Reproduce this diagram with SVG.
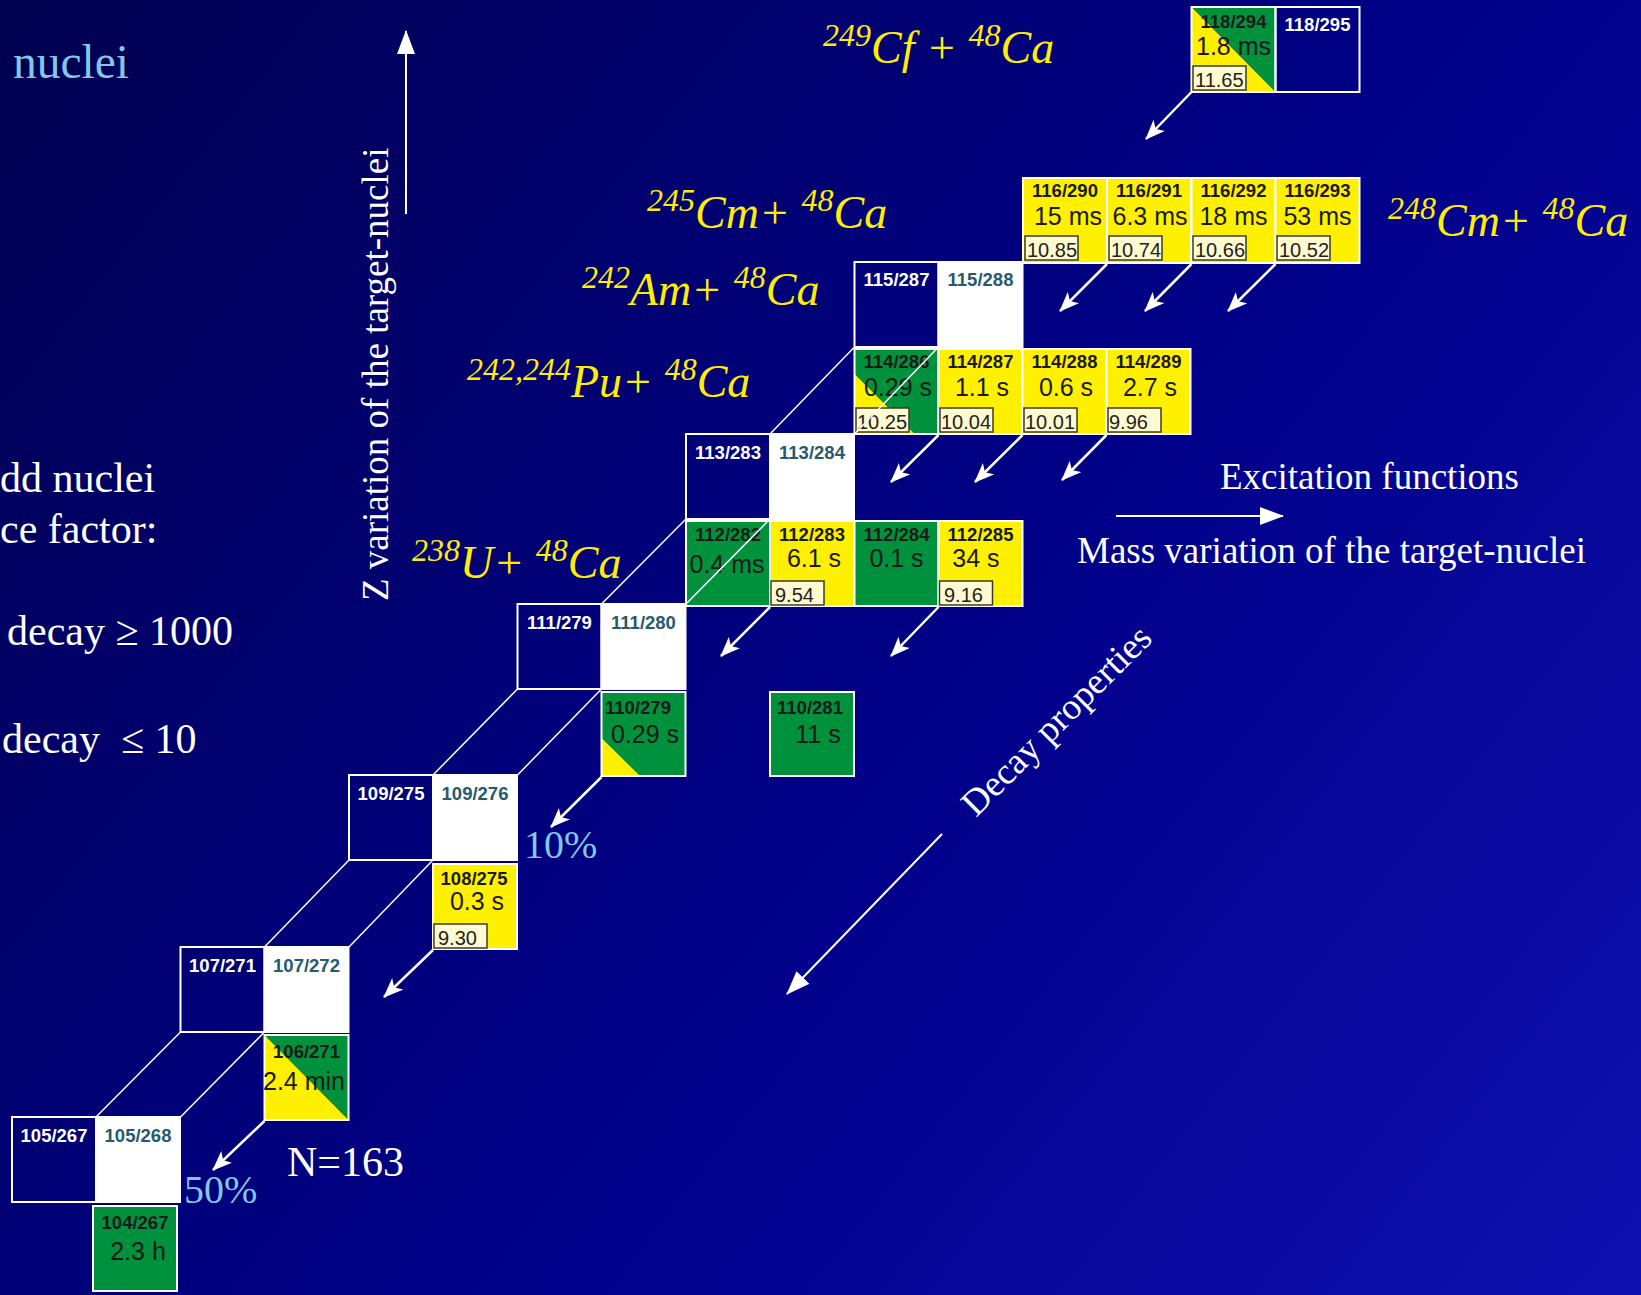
<svg xmlns="http://www.w3.org/2000/svg" width="1641" height="1295" viewBox="0 0 1641 1295">
<defs>
<linearGradient id="bg" gradientUnits="userSpaceOnUse" x1="0" y1="0" x2="1641" y2="1295">
<stop offset="0" stop-color="#000050"/>
<stop offset="0.55" stop-color="#000088"/>
<stop offset="1" stop-color="#1010b0"/>
</linearGradient>
<marker id="ah" markerUnits="userSpaceOnUse" markerWidth="20" markerHeight="16" refX="19" refY="8" orient="auto">
<path d="M0,0 L20,8 L0,16 L5,8 z" fill="#ffffff"/>
</marker>
<marker id="bh" markerUnits="userSpaceOnUse" markerWidth="24" markerHeight="18" refX="23" refY="9" orient="auto">
<path d="M0,0 L24,9 L0,18 z" fill="#ffffff"/>
</marker>
</defs>
<style>
.cell{stroke:#ffffff;stroke-width:2}
.nav{fill:none}
.wht{fill:#ffffff}
.yel{fill:#fff000}
.grn{fill:#00913c}
.lab{font-family:"Liberation Sans",Arial,sans-serif;font-weight:bold;font-size:18.5px;text-anchor:middle}
.lw{fill:#ffffff}
.lt{fill:#265a6e}
.ld{fill:#1a1a1a}
.hl{font-family:"Liberation Sans",Arial,sans-serif;font-size:25px;fill:#1a1a1a;text-anchor:middle}
.box{fill:#fffad0;stroke:#3a3a2a;stroke-width:1.5}
.bt{font-family:"Liberation Sans",Arial,sans-serif;font-size:20px;fill:#222222}
.ser{font-family:"Liberation Serif","Times New Roman",serif}
.wt{fill:#ffffff;font-size:42px}
.blue{fill:#80c8e6}
.rx{font-family:"Liberation Serif","Times New Roman",serif;font-style:italic;fill:#ffee00;font-size:46px}
.sup{font-size:32px}
.pl{stroke:#ffffff;stroke-width:1.5;fill:none}
.ar{stroke:#ffffff;stroke-width:2.5;fill:none;marker-end:url(#ah)}
.big{stroke:#ffffff;stroke-width:2;fill:none;marker-end:url(#bh)}
</style>
<rect x="0" y="0" width="1641" height="1295" fill="url(#bg)"/>

<!-- left texts -->
<g id="left-texts" class="ser">
<text x="13" y="78" font-size="47.5" class="blue">nuclei</text>
<text x="0" y="492" class="wt">dd nuclei</text>
<text x="0" y="543" class="wt">ce factor:</text>
<text x="7" y="645" class="wt">decay ≥ 1000</text>
<text x="2" y="753" class="wt" xml:space="preserve">decay  ≤ 10</text>
<text x="287" y="1176" class="wt">N=163</text>
<text x="524" y="858" font-size="40" class="blue">10%</text>
<text x="184" y="1203" font-size="40" class="blue">50%</text>
<text transform="translate(388,601) rotate(-90)" font-size="37" fill="#ffffff">Z variation of the target-nuclei</text>
<text x="1220" y="489" font-size="37" fill="#ffffff">Excitation functions</text>
<text x="1077" y="563" font-size="37" fill="#ffffff">Mass variation of the target-nuclei</text>
<text transform="translate(976,818) rotate(-45)" font-size="37" fill="#ffffff">Decay properties</text>
</g>

<!-- reaction labels -->
<g id="reactions" class="rx">
<text x="823" y="63"><tspan class="sup" dy="-17">249</tspan><tspan dy="17">Cf + </tspan><tspan class="sup" dy="-17">48</tspan><tspan dy="17">Ca</tspan></text>
<text x="647" y="228"><tspan class="sup" dy="-17">245</tspan><tspan dy="17">Cm+ </tspan><tspan class="sup" dy="-17">48</tspan><tspan dy="17">Ca</tspan></text>
<text x="1388" y="236"><tspan class="sup" dy="-17">248</tspan><tspan dy="17">Cm+ </tspan><tspan class="sup" dy="-17">48</tspan><tspan dy="17">Ca</tspan></text>
<text x="582" y="305"><tspan class="sup" dy="-17">242</tspan><tspan dy="17">Am+ </tspan><tspan class="sup" dy="-17">48</tspan><tspan dy="17">Ca</tspan></text>
<text x="467" y="397"><tspan class="sup" dy="-17">242,244</tspan><tspan dy="17">Pu+ </tspan><tspan class="sup" dy="-17">48</tspan><tspan dy="17">Ca</tspan></text>
<text x="412" y="578"><tspan class="sup" dy="-17">238</tspan><tspan dy="17">U+ </tspan><tspan class="sup" dy="-17">48</tspan><tspan dy="17">Ca</tspan></text>
</g>

<!-- Z=118 -->
<g id="n118-294">
<polygon points="1191.5,7 1275.5,7 1275.5,92" class="grn"/>
<polygon points="1191.5,7 1191.5,92 1275.5,92" class="yel"/>
<rect x="1191.5" y="7" width="84" height="85" class="cell" fill="none"/>
<text x="1233.5" y="28" class="lab ld">118/294</text>
<text x="1233.5" y="55" class="hl">1.8 ms</text>
<rect x="1193" y="66" width="53" height="24" class="box"/>
<text x="1195" y="87" class="bt">11.65</text>
</g>
<g id="n118-295">
<rect x="1275.5" y="7" width="84" height="85" class="cell nav"/>
<text x="1317.5" y="31" class="lab lw">118/295</text>
</g>

<!-- Z=116 -->
<g id="n116-290">
<rect x="1023" y="178" width="84" height="85" class="cell yel"/>
<text x="1065" y="197" class="lab ld">116/290</text>
<text x="1068" y="225" class="hl">15 ms</text>
<rect x="1025" y="236" width="53" height="24" class="box"/>
<text x="1027" y="257" class="bt">10.85</text>
</g>
<g id="n116-291">
<rect x="1107" y="178" width="84" height="85" class="cell yel"/>
<text x="1149" y="197" class="lab ld">116/291</text>
<text x="1150" y="225" class="hl">6.3 ms</text>
<rect x="1109" y="236" width="53" height="24" class="box"/>
<text x="1111" y="257" class="bt">10.74</text>
</g>
<g id="n116-292">
<rect x="1191.5" y="178" width="84" height="85" class="cell yel"/>
<text x="1233.5" y="197" class="lab ld">116/292</text>
<text x="1233.5" y="225" class="hl">18 ms</text>
<rect x="1193" y="236" width="53" height="24" class="box"/>
<text x="1195" y="257" class="bt">10.66</text>
</g>
<g id="n116-293">
<rect x="1275.5" y="178" width="84" height="85" class="cell yel"/>
<text x="1317.5" y="197" class="lab ld">116/293</text>
<text x="1317.5" y="225" class="hl">53 ms</text>
<rect x="1277" y="236" width="53" height="24" class="box"/>
<text x="1279" y="257" class="bt">10.52</text>
</g>

<!-- Z=115 -->
<g id="n115-287">
<rect x="854.5" y="262" width="84" height="85" class="cell nav"/>
<text x="896.5" y="286" class="lab lw">115/287</text>
</g>
<g id="n115-288">
<rect x="938.5" y="262" width="84" height="85" class="cell wht"/>
<text x="980.5" y="286" class="lab lt">115/288</text>
</g>

<!-- Z=114 -->
<g id="n114-286">
<rect x="854.5" y="349" width="84" height="85" class="grn"/>
<polygon points="854.5,374 854.5,434 914.5,434" class="yel"/>
<rect x="854.5" y="349" width="84" height="85" class="cell" fill="none"/>
<text x="896.5" y="368" class="lab ld">114/286</text>
<text x="898" y="396" class="hl">0.29 s</text>
<rect x="856" y="408" width="53" height="24" class="box"/>
<text x="857" y="429" class="bt">10.25</text>
</g>
<g id="n114-287">
<rect x="938.5" y="349" width="84" height="85" class="cell yel"/>
<text x="980.5" y="368" class="lab ld">114/287</text>
<text x="982" y="396" class="hl">1.1 s</text>
<rect x="940" y="408" width="53" height="24" class="box"/>
<text x="941" y="429" class="bt">10.04</text>
</g>
<g id="n114-288">
<rect x="1022.5" y="349" width="84" height="85" class="cell yel"/>
<text x="1064.5" y="368" class="lab ld">114/288</text>
<text x="1066" y="396" class="hl">0.6 s</text>
<rect x="1024" y="408" width="53" height="24" class="box"/>
<text x="1025" y="429" class="bt">10.01</text>
</g>
<g id="n114-289">
<rect x="1106.5" y="349" width="84" height="85" class="cell yel"/>
<text x="1148.5" y="368" class="lab ld">114/289</text>
<text x="1150" y="396" class="hl">2.7 s</text>
<rect x="1108" y="408" width="53" height="24" class="box"/>
<text x="1109" y="429" class="bt">9.96</text>
</g>

<!-- Z=113 -->
<g id="n113-283">
<rect x="686" y="434" width="84" height="85" class="cell nav"/>
<text x="728" y="459" class="lab lw">113/283</text>
</g>
<g id="n113-284">
<rect x="770" y="434" width="84" height="85" class="cell wht"/>
<text x="812" y="459" class="lab lt">113/284</text>
</g>

<!-- Z=112 -->
<g id="n112-282">
<rect x="686" y="521" width="84" height="85" class="cell grn"/>
<text x="728" y="541" class="lab ld">112/282</text>
<text x="727" y="573" class="hl">0.4 ms</text>
</g>
<g id="n112-283">
<rect x="770" y="521" width="84" height="85" class="cell yel"/>
<text x="812" y="541" class="lab ld">112/283</text>
<text x="814" y="567" class="hl">6.1 s</text>
<rect x="771" y="581" width="53" height="24" class="box"/>
<text x="775" y="602" class="bt">9.54</text>
</g>
<g id="n112-284">
<rect x="854.5" y="521" width="84" height="85" class="cell grn"/>
<text x="896.5" y="541" class="lab ld">112/284</text>
<text x="896.5" y="567" class="hl">0.1 s</text>
</g>
<g id="n112-285">
<rect x="938.5" y="521" width="84" height="85" class="cell yel"/>
<text x="980.5" y="541" class="lab ld">112/285</text>
<text x="976" y="567" class="hl">34 s</text>
<rect x="939.5" y="581" width="53" height="24" class="box"/>
<text x="944" y="602" class="bt">9.16</text>
</g>

<!-- Z=111 -->
<g id="n111-279">
<rect x="517.5" y="604" width="84" height="85" class="cell nav"/>
<text x="559.5" y="629" class="lab lw">111/279</text>
</g>
<g id="n111-280">
<rect x="601.5" y="604" width="84" height="85" class="cell wht"/>
<text x="643.5" y="629" class="lab lt">111/280</text>
</g>

<!-- Z=110 -->
<g id="n110-279">
<rect x="601.5" y="692" width="84" height="84" class="grn"/>
<polygon points="601.5,738 601.5,776 640,776" class="yel"/>
<rect x="601.5" y="692" width="84" height="84" class="cell" fill="none"/>
<text x="638" y="714" class="lab ld">110/279</text>
<text x="645" y="743" class="hl">0.29 s</text>
</g>
<g id="n110-281">
<rect x="770" y="692" width="84" height="84" class="cell grn"/>
<text x="810" y="714" class="lab ld">110/281</text>
<text x="818" y="743" class="hl">11 s</text>
</g>

<!-- Z=109 -->
<g id="n109-275">
<rect x="349" y="775" width="84" height="85" class="cell nav"/>
<text x="391" y="800" class="lab lw">109/275</text>
</g>
<g id="n109-276">
<rect x="433" y="775" width="84" height="85" class="cell wht"/>
<text x="475" y="800" class="lab lt">109/276</text>
</g>

<!-- Z=108 -->
<g id="n108-275">
<rect x="433" y="864" width="84" height="85" class="cell yel"/>
<text x="474" y="885" class="lab ld">108/275</text>
<text x="477" y="910" class="hl">0.3 s</text>
<rect x="434" y="924" width="53" height="24" class="box"/>
<text x="438" y="945" class="bt">9.30</text>
</g>

<!-- Z=107 -->
<g id="n107-271">
<rect x="180.5" y="947" width="84" height="85" class="cell nav"/>
<text x="222.5" y="972" class="lab lw">107/271</text>
</g>
<g id="n107-272">
<rect x="264.5" y="947" width="84" height="85" class="cell wht"/>
<text x="306.5" y="972" class="lab lt">107/272</text>
</g>

<!-- Z=106 -->
<g id="n106-271">
<polygon points="264.5,1035 348.5,1035 348.5,1120" class="grn"/>
<polygon points="264.5,1035 264.5,1120 348.5,1120" class="yel"/>
<rect x="264.5" y="1035" width="84" height="85" class="cell" fill="none"/>
<text x="306.5" y="1058" class="lab ld">106/271</text>
<text x="304" y="1090" class="hl">2.4 min</text>
</g>

<!-- Z=105 -->
<g id="n105-267">
<rect x="12" y="1117" width="84" height="85" class="cell nav"/>
<text x="54" y="1142" class="lab lw">105/267</text>
</g>
<g id="n105-268">
<rect x="96" y="1117" width="84" height="85" class="cell wht"/>
<text x="138" y="1142" class="lab lt">105/268</text>
</g>

<!-- Z=104 -->
<g id="n104-267">
<rect x="93" y="1206" width="84" height="85" class="cell grn"/>
<text x="135" y="1229" class="lab ld">104/267</text>
<text x="138" y="1260" class="hl">2.3 h</text>
</g>

<!-- connectors -->
<g id="connectors">
<line class="pl" x1="96" y1="1117" x2="180.5" y2="1032"/>
<line class="pl" x1="180.5" y1="1117" x2="264.5" y2="1032"/>
<line class="pl" x1="264.5" y1="947" x2="349" y2="860"/>
<line class="pl" x1="349" y1="947" x2="433" y2="860"/>
<line class="pl" x1="433" y1="775" x2="517.5" y2="689"/>
<line class="pl" x1="517.5" y1="775" x2="601.5" y2="689"/>
<line class="pl" x1="601.5" y1="604" x2="686" y2="519"/>
<line class="pl" x1="686" y1="604" x2="770" y2="519"/>
<line class="pl" x1="770" y1="434" x2="854.5" y2="347"/>
<line class="pl" x1="854.5" y1="434" x2="938.5" y2="347"/>

<line class="ar" x1="1191.5" y1="92" x2="1146" y2="139"/>
<line class="ar" x1="1107" y1="264" x2="1060" y2="311"/>
<line class="ar" x1="1191.5" y1="264" x2="1145" y2="311"/>
<line class="ar" x1="1275.5" y1="264" x2="1228" y2="311"/>
<line class="ar" x1="938.5" y1="435" x2="891" y2="482"/>
<line class="ar" x1="1022.5" y1="435" x2="975" y2="482"/>
<line class="ar" x1="1106.5" y1="435" x2="1062" y2="480"/>
<line class="ar" x1="770" y1="607" x2="721" y2="656"/>
<line class="ar" x1="938.5" y1="607" x2="891" y2="656"/>
<line class="ar" x1="601.5" y1="777" x2="551" y2="827"/>
<line class="ar" x1="433" y1="950" x2="384" y2="997"/>
<line class="ar" x1="264.5" y1="1121" x2="213" y2="1170"/>

<line class="big" x1="406" y1="214" x2="406" y2="31"/>
<line class="big" x1="1116" y1="516" x2="1283" y2="516"/>
<line class="big" x1="942" y1="834" x2="787" y2="994"/>
</g>
</svg>
